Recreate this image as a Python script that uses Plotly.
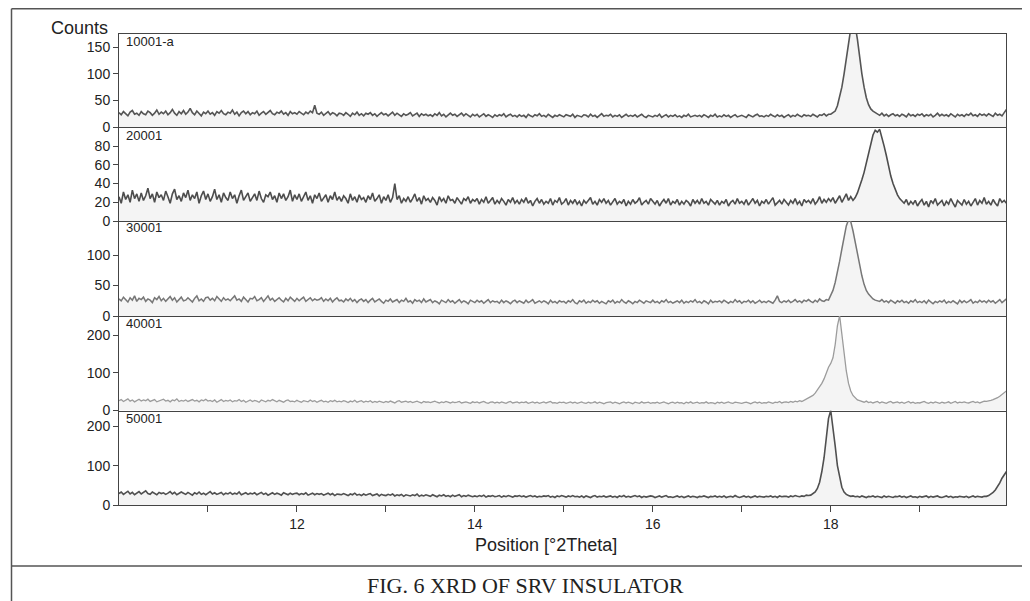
import plotly.graph_objects as go

# ---------------- data ----------------
x_start = 10.0
x_step = 0.025

panel_labels = ["10001-a", "20001", "30001", "40001", "50001"]

counts_10001a = [
    27, 23, 29, 25, 21, 28, 31, 24, 26, 22,
    29, 25, 23, 30, 27, 22, 26, 32, 24, 28,
    25, 30, 23, 27, 33, 26, 22, 29, 25, 31,
    24, 28, 35, 27, 23, 30, 26, 21, 28, 25,
    30, 24, 27, 22, 29, 26, 31, 25, 23, 28,
    26, 32, 24, 28, 21, 27, 30, 25, 29, 23,
    27, 25, 30, 22, 26, 29, 24, 28, 31, 25,
    23, 28, 26, 30, 24, 27, 22, 29, 25, 27,
    24, 29, 26, 23, 28, 25, 30, 27, 41, 26,
    24, 28, 22, 26, 29, 23, 27, 25, 21, 26,
    25, 22, 27, 24, 20, 26, 23, 28, 22, 25,
    21, 26, 24, 27, 22, 25, 20, 24, 27, 23,
    25, 21, 24, 28, 22, 26, 23, 20, 25, 22,
    24, 27, 21, 23, 26, 20, 25, 22, 24, 21,
    23, 20, 25, 22, 27, 21, 24, 19, 23, 26,
    22, 24, 20, 23, 26, 21, 25, 22, 19, 24,
    21, 24, 19, 22, 25, 20, 23, 21, 18, 23,
    20, 23, 21, 25, 19, 22, 24, 20, 22, 19,
    23, 20, 22, 18, 24, 21, 19, 23, 21, 25,
    20, 22, 19, 24, 21, 18, 22, 20, 23, 21,
    19, 23, 21, 20, 24, 18, 22, 21, 19, 23,
    22, 19, 24, 20, 22, 18, 21, 25, 20, 22,
    21, 24, 19, 22, 20, 23, 18, 21, 24, 20,
    22, 20, 23, 19, 21, 24, 20, 18, 22, 21,
    19, 22, 20, 24, 18, 21, 23, 19, 22, 20,
    23, 19, 21, 18, 22, 20, 24, 19, 21, 22,
    20, 22, 19, 23, 21, 18, 22, 20, 24, 19,
    21, 19, 23, 20, 22, 18, 21, 23, 19, 21,
    22, 20, 18, 23, 21, 19, 22, 24, 20, 21,
    19, 22, 20, 24, 21, 19, 23, 20, 22, 18,
    21, 23, 19, 22, 20, 24, 21, 19, 23, 21,
    22, 20, 24, 21, 19, 23, 22, 25, 21, 24,
    24, 27, 30, 40, 55, 75, 100, 130, 160, 185,
    195, 190, 165, 130, 100, 75, 55, 42, 34, 30,
    27, 24, 22, 26, 21, 24, 20, 23, 25, 21,
    23, 20, 24, 22, 19, 25, 21, 23, 20, 24,
    22, 25, 20, 23, 21, 24, 19, 22, 26, 21,
    24, 21, 23, 20, 25, 22, 19, 24, 21, 23,
    20, 24, 22, 26, 21, 23, 20, 25, 22, 24,
    21, 25, 23, 20, 26, 22, 24, 21, 27, 33,
]

counts_20001 = [
    26, 19, 31, 23, 28, 20, 33, 24, 29, 21,
    30, 22, 27, 35, 24, 29, 20, 31, 25, 28,
    22, 32, 26, 19, 29, 34, 23, 27, 21, 30,
    25, 33, 22, 28, 24, 31, 19, 27, 32, 23,
    29, 21, 26, 34, 23, 28, 20, 30, 25, 22,
    31, 24, 28, 19, 27, 33, 22, 26, 30, 21,
    25, 29, 22, 32, 24, 20, 28, 26, 31, 23,
    27, 20, 30, 24, 29, 22, 26, 33, 21, 28,
    23, 29, 21, 26, 31, 22, 27, 19, 28, 24,
    30, 21, 25, 28, 20, 27, 23, 31, 22, 26,
    21, 27, 24, 19, 29, 22, 26, 20, 28, 23,
    25, 20, 27, 23, 30, 21, 24, 28, 19, 26,
    22, 28, 20, 25, 40, 23, 27, 19, 24, 21,
    26, 20, 24, 29, 21, 25, 18, 27, 22, 24,
    20, 25, 22, 17, 26, 21, 24, 19, 27, 22,
    23, 19, 25, 21, 18, 24, 22, 26, 19, 23,
    21, 24, 18, 23, 20, 26, 19, 22, 25, 18,
    22, 19, 24, 21, 17, 23, 20, 25, 19, 22,
    18, 23, 20, 25, 19, 22, 16, 21, 24, 19,
    23, 18, 21, 19, 24, 17, 22, 20, 25, 18,
    20, 24, 17, 22, 19, 23, 18, 21, 16, 22,
    19, 22, 25, 18, 21, 17, 23, 20, 24, 19,
    22, 17, 20, 24, 18, 21, 19, 23, 16, 21,
    18, 23, 19, 21, 25, 17, 20, 22, 18, 24,
    21, 18, 22, 16, 20, 23, 19, 24, 17, 21,
    19, 23, 17, 21, 18, 22, 20, 16, 23, 19,
    22, 18, 24, 19, 21, 17, 23, 20, 18, 22,
    17, 21, 19, 23, 16, 20, 22, 18, 24, 19,
    21, 18, 23, 17, 20, 24, 19, 22, 16, 21,
    19, 23, 18, 21, 25, 17, 20, 22, 18, 23,
    20, 17, 22, 19, 24, 18, 21, 16, 23, 20,
    22, 19, 24, 18, 21, 26, 19, 23, 20, 24,
    21, 25, 19, 23, 27, 20, 24, 29, 22, 26,
    22, 25, 30, 36, 44, 52, 62, 74, 85, 92,
    97, 95, 98, 90, 80, 70, 58, 48, 40, 33,
    28, 24, 21, 19, 23, 17, 21, 18, 22, 16,
    20, 23, 17, 21, 15, 22, 19, 24, 17, 20,
    22, 16, 21, 18, 24, 19, 15, 22, 20, 17,
    23, 18, 21, 16, 20, 24, 17, 22, 19, 25,
    18, 21, 17, 23, 19, 16, 24, 20, 22, 19,
]

counts_30001 = [
    28, 25, 31, 27, 23, 30, 26, 33, 24, 29,
    27, 31, 24, 28, 26, 22, 30, 27, 32, 25,
    29, 24, 28, 32, 26, 30, 23, 27, 31, 25,
    26, 30, 27, 23, 29, 33, 25, 28, 24, 30,
    31, 26, 29, 25, 32, 27, 24, 30, 26, 28,
    25, 29, 33, 26, 28, 24, 31, 27, 23, 29,
    28, 32, 25, 27, 30, 24, 28, 33, 26, 29,
    24, 27, 30, 26, 23, 29, 25, 31, 27, 24,
    29, 25, 28, 31, 24, 27, 30, 25, 28, 26,
    27, 30, 24, 28, 25, 29, 23, 27, 30, 25,
    26, 23, 28, 25, 29, 24, 27, 22, 26, 28,
    24, 27, 22, 26, 29, 23, 25, 28, 24, 21,
    26, 24, 28, 23, 25, 27, 22, 26, 24, 29,
    23, 25, 21, 27, 24, 26, 22, 28, 23, 25,
    27, 22, 25, 23, 20, 26, 24, 22, 27, 23,
    25, 21, 24, 27, 22, 25, 23, 20, 26, 24,
    22, 26, 23, 25, 21, 24, 27, 22, 25, 23,
    24, 21, 26, 22, 25, 23, 20, 24, 26, 22,
    25, 23, 21, 26, 22, 24, 27, 21, 23, 25,
    22, 25, 23, 20, 26, 22, 24, 21, 25, 23,
    24, 21, 25, 23, 27, 22, 20, 25, 23, 26,
    21, 24, 22, 26, 23, 25, 21, 24, 22, 20,
    25, 23, 26, 21, 24, 22, 27, 23, 21, 25,
    23, 20, 24, 22, 26, 23, 21, 25, 24, 22,
    26, 22, 24, 21, 25, 23, 27, 22, 24, 21,
    23, 25, 22, 26, 21, 24, 22, 25, 23, 27,
    22, 24, 21, 25, 23, 20, 26, 22, 24, 23,
    25, 22, 26, 23, 21, 24, 22, 27, 23, 25,
    21, 24, 23, 26, 22, 25, 21, 23, 26, 22,
    24, 22, 25, 23, 21, 26, 33, 24, 22, 25,
    23, 26, 22, 24, 27, 23, 25, 22, 26, 24,
    27, 24, 22, 26, 23, 28, 25, 24, 27, 26,
    34, 42, 55, 70, 90, 110, 130, 148, 158, 155,
    140, 120, 100, 82, 66, 52, 42, 36, 31, 28,
    26, 25, 24, 27, 23, 25, 22, 26, 24, 21,
    25, 23, 26, 22, 24, 21, 25, 23, 27, 22,
    24, 22, 25, 21, 26, 23, 20, 24, 22, 25,
    23, 26, 21, 24, 22, 25, 23, 20, 26, 22,
    25, 22, 24, 27, 21, 24, 22, 26, 23, 25,
    22, 26, 23, 25, 21, 24, 27, 22, 25, 28,
]

counts_40001 = [
    26, 29, 24, 27, 31, 25, 28, 23, 27, 30,
    25, 28, 26, 30, 24, 27, 29, 23, 26, 28,
    30, 25, 27, 23, 28, 26, 31, 24, 27, 25,
    28, 24, 26, 29, 25, 27, 23, 28, 26, 30,
    25, 27, 24, 28, 22, 26, 29, 24, 27, 25,
    28, 23, 26, 25, 29, 24, 27, 22, 26, 28,
    24, 27, 25, 22, 28, 26, 23, 27, 25, 29,
    26, 23, 27, 25, 22, 26, 28, 24, 25, 23,
    27, 24, 22, 26, 25, 23, 28, 24, 26, 22,
    25, 27, 23, 25, 22, 26, 24, 27, 23, 25,
    23, 26, 24, 21, 25, 23, 27, 22, 24, 26,
    22, 25, 23, 26, 21, 24, 22, 25, 23, 21,
    24, 22, 25, 23, 20, 24, 26, 22, 23, 25,
    22, 24, 21, 23, 25, 22, 20, 24, 22, 23,
    21, 23, 25, 22, 20, 23, 21, 24, 22, 20,
    23, 21, 22, 24, 20, 22, 23, 21, 19, 23,
    21, 23, 20, 22, 24, 21, 19, 22, 23, 20,
    22, 20, 23, 21, 19, 22, 24, 20, 21, 23,
    20, 22, 21, 23, 19, 21, 23, 20, 22, 19,
    21, 23, 20, 22, 24, 20, 21, 19, 22, 21,
    22, 19, 21, 23, 20, 22, 19, 21, 23, 20,
    19, 22, 20, 21, 23, 19, 22, 20, 18, 21,
    21, 23, 19, 22, 20, 18, 21, 23, 20, 22,
    20, 18, 22, 21, 19, 23, 20, 21, 22, 19,
    21, 20, 22, 19, 21, 23, 20, 18, 21, 22,
    19, 22, 20, 21, 18, 22, 20, 23, 19, 21,
    22, 19, 21, 20, 23, 19, 21, 20, 18, 22,
    20, 22, 19, 21, 23, 20, 19, 22, 21, 20,
    19, 21, 22, 20, 18, 21, 23, 20, 22, 19,
    21, 20, 23, 21, 19, 22, 21, 24, 20, 22,
    23, 21, 24, 22, 25, 23, 26, 24, 27, 29,
    32, 36, 40, 46, 54, 62, 72, 84, 100, 115,
    125, 140, 175, 225, 252, 200, 150, 105, 72, 52,
    40, 33, 28, 26, 24, 22, 25, 21, 23, 20,
    22, 24, 20, 23, 21, 19, 22, 24, 20, 21,
    23, 20, 22, 19, 21, 24, 20, 22, 19, 21,
    20, 22, 24, 21, 19, 22, 20, 23, 21, 19,
    22, 20, 21, 23, 19, 21, 24, 20, 22, 21,
    23, 21, 20, 22, 24, 21, 23, 20, 22, 25,
    24, 25, 27, 29, 31, 34, 38, 42, 47, 52,
]

counts_50001 = [
    29, 33, 27, 31, 35, 28, 32, 26, 30, 34,
    28, 31, 36, 29, 27, 33, 30, 26, 32, 29,
    31, 27, 30, 34, 28, 32, 26, 29, 33, 30,
    27, 32, 29, 25, 31, 28, 33, 27, 30, 26,
    30, 34, 28, 31, 27, 29, 32, 26, 30, 28,
    32, 27, 30, 28, 33, 26, 29, 31, 27, 30,
    28, 31, 26, 29, 32, 27, 30, 25, 29, 31,
    27, 30, 28, 25, 31, 28, 26, 30, 27, 29,
    30, 26, 29, 27, 31, 25, 28, 30, 26, 29,
    27, 29, 25, 28, 30, 26, 29, 24, 28, 27,
    26, 29, 27, 24, 28, 26, 30, 25, 27, 24,
    28, 25, 27, 29, 24, 26, 28, 23, 27, 25,
    24, 27, 25, 28, 23, 26, 24, 27, 22, 26,
    25, 23, 26, 24, 28, 22, 25, 23, 26, 24,
    22, 26, 24, 21, 25, 23, 26, 22, 24, 21,
    25, 22, 24, 26, 21, 24, 22, 25, 23, 21,
    23, 21, 24, 22, 25, 20, 23, 22, 24, 21,
    22, 24, 20, 23, 21, 24, 22, 20, 23, 22,
    24, 21, 23, 20, 22, 24, 21, 23, 20, 22,
    21, 23, 22, 24, 20, 22, 19, 23, 21, 24,
    22, 20, 23, 21, 24, 21, 22, 20, 23, 19,
    23, 21, 19, 22, 24, 20, 22, 21, 23, 20,
    21, 23, 20, 22, 19, 23, 21, 24, 20, 22,
    20, 22, 24, 21, 23, 19, 22, 20, 21, 23,
    22, 19, 21, 23, 20, 22, 24, 20, 21, 19,
    21, 23, 20, 22, 19, 21, 23, 20, 22, 21,
    19, 22, 21, 23, 20, 19, 22, 21, 23, 20,
    22, 20, 23, 19, 21, 22, 20, 24, 21, 19,
    21, 23, 20, 22, 19, 21, 23, 20, 22, 21,
    20, 22, 21, 23, 20, 22, 19, 23, 21, 22,
    22, 20, 23, 21, 24, 22, 21, 23, 22, 25,
    24, 25, 28, 33, 42, 58, 85, 120, 170, 220,
    240, 200, 150, 100, 68, 45, 33, 27, 24, 22,
    23, 21, 22, 20, 23, 21, 19, 22, 21, 23,
    20, 22, 21, 19, 23, 20, 22, 21, 19, 22,
    21, 23, 20, 22, 19, 21, 23, 20, 21, 19,
    22, 20, 21, 23, 19, 22, 20, 21, 23, 20,
    19, 21, 23, 20, 22, 19, 21, 20, 22, 21,
    20, 22, 19, 21, 23, 20, 22, 21, 20, 22,
    22, 24, 27, 32, 38, 46, 56, 68, 78, 85,
]

series = [counts_10001a, counts_20001, counts_30001, counts_40001, counts_50001]
y_ranges = [[0, 175], [0, 100.5], [0, 156], [0, 251], [0, 240]]
y_ticks = [[0, 50, 100, 150], [0, 20, 40, 60, 80], [0, 50, 100], [0, 100, 200], [0, 100, 200]]
x_ticks = [12, 14, 16, 18]
x_minor_ticks = [11, 13, 15, 17, 19]
line_colors = ["#555555", "#4d4d4d", "#777777", "#9c9c9c", "#505050"]
line_widths = [1.6, 1.6, 1.5, 1.3, 1.6]

# ---------------- layout geometry ----------------
# the page body adds an 8 px margin, so the figure starts 8 px in
OFF = 8
W, H = 1030 - OFF, 601 - OFF
left_px, right_px = 119, 1006
bounds_px = [34, 127, 221, 316, 410.5, 505]


def px(p):
    return (p - OFF) / W


def py(p):
    return 1 - (p - OFF) / H


x_dom = [px(left_px), px(right_px)]

fig = go.Figure()
FONT = "Liberation Sans, Arial, sans-serif"
AX = "#444444"
TXT = "#222222"

for i, vals in enumerate(series):
    n = i + 1
    xs = [x_start + x_step * k for k in range(len(vals))]
    fig.add_trace(go.Scatter(
        x=xs, y=vals, mode="lines",
        line=dict(color=line_colors[i], width=line_widths[i]),
        fill="tozeroy", fillcolor="rgba(0,0,0,0.045)",
        xaxis="x" if n == 1 else f"x{n}",
        yaxis="y" if n == 1 else f"y{n}",
        showlegend=False, hoverinfo="skip",
    ))
    ydom = [py(bounds_px[i + 1]), py(bounds_px[i])]
    yname = "yaxis" if n == 1 else f"yaxis{n}"
    xname = "xaxis" if n == 1 else f"xaxis{n}"
    anchor_x = "x" if n == 1 else f"x{n}"
    anchor_y = "y" if n == 1 else f"y{n}"
    fig.layout[yname] = dict(
        domain=ydom, range=y_ranges[i], anchor=anchor_x,
        tickvals=y_ticks[i], ticks="outside", ticklen=5, tickcolor=AX,
        showline=True, linecolor=AX, linewidth=1, mirror=True,
        showgrid=False, zeroline=False, automargin=False,
        tickfont=dict(family=FONT, size=14, color=TXT),
    )
    last = (n == len(series))
    xa = dict(
        domain=x_dom, range=[10.0, 19.97], anchor=anchor_y,
        showline=True, linecolor=AX, linewidth=1, mirror=(n == 1),
        showgrid=False, zeroline=False, automargin=False,
    )
    if last:
        xa.update(
            tickvals=x_ticks, ticks="outside", ticklen=6, tickcolor=AX,
            minor=dict(tickvals=x_minor_ticks, ticks="outside", ticklen=6, tickcolor=AX),
            tickfont=dict(family=FONT, size=14, color=TXT),
        )
    else:
        xa.update(showticklabels=False, ticks="")
    if n != 1:
        xa["matches"] = "x"
    fig.layout[xname] = xa

annotations = []
label_y_px = [41, 135, 228, 323, 418]
for lab, ypx in zip(panel_labels, label_y_px):
    annotations.append(dict(
        text=lab, x=px(124), y=py(ypx), xref="paper", yref="paper",
        xanchor="left", yanchor="middle", showarrow=False,
        font=dict(family=FONT, size=13, color=TXT),
    ))
annotations.append(dict(
    text="Counts", x=px(79), y=py(28), xref="paper", yref="paper",
    xanchor="center", yanchor="middle", showarrow=False,
    font=dict(family=FONT, size=18, color=TXT),
))
annotations.append(dict(
    text="Position [°2Theta]", x=px(546), y=py(545), xref="paper", yref="paper",
    xanchor="center", yanchor="middle", showarrow=False,
    font=dict(family=FONT, size=18, color=TXT),
))
annotations.append(dict(
    text="FIG. 6 XRD OF SRV INSULATOR", x=px(525), y=py(585), xref="paper", yref="paper",
    xanchor="center", yanchor="middle", showarrow=False,
    font=dict(family="Liberation Serif, Times New Roman, serif", size=22, color=TXT),
))

frame = "#555555"
shapes = [
    dict(type="line", xref="paper", yref="paper", x0=px(11.5), x1=1.0, y0=py(8.75), y1=py(8.75),
         line=dict(color=frame, width=1.5)),
    dict(type="line", xref="paper", yref="paper", x0=px(11.5), x1=px(11.5), y0=py(8.75), y1=0.0,
         line=dict(color=frame, width=1.5)),
    dict(type="line", xref="paper", yref="paper", x0=px(11.5), x1=1.0, y0=py(566), y1=py(566),
         line=dict(color=frame, width=1.5)),
]

fig.update_layout(
    width=W, height=H,
    margin=dict(l=0, r=0, t=0, b=0, pad=0, autoexpand=False),
    paper_bgcolor="white", plot_bgcolor="white",
    annotations=annotations, shapes=shapes, showlegend=False,
)

fig.write_html("out.html")
